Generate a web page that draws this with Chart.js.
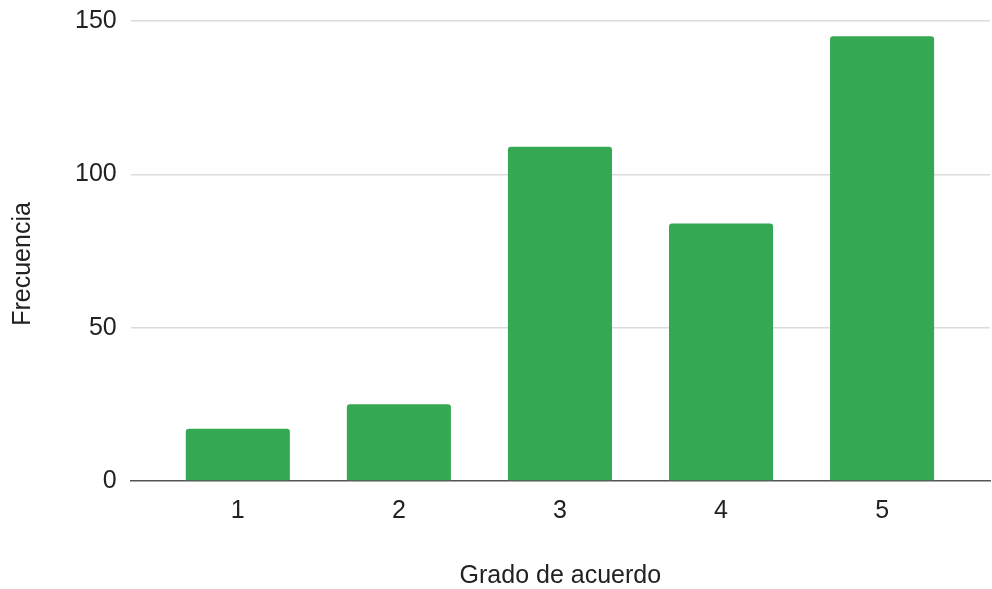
<!DOCTYPE html>
<html>
<head>
<meta charset="utf-8">
<script src="https://cdn.jsdelivr.net/npm/chart.js@4"></script>
<style>
  body { margin: 0; background: #fff; }
  #wrap { width: 992px; height: 589px; }
</style>
</head>
<body>
<div id="wrap"><canvas id="chart" width="992" height="589"></canvas></div>
<script>
'use strict';

// ************************* DATA **********************************
const categories = [1, 2, 3, 4, 5];
const frequencies = [17, 25, 109, 84, 145];
const yTicks = [0, 50, 100, 150];
const xTitle = 'Grado de acuerdo';
const yTitle = 'Frecuencia';

const canvas = document.querySelector('#chart');
const FONT = 'Liberation Sans, Arial, sans-serif';

// y title sits a bit below the middle of the plot in the original, so draw it ourselves
const yTitlePlugin = {
  id: 'yTitle',
  afterDraw(chart) {
    const { ctx, chartArea } = chart;
    ctx.save();
    ctx.translate(23, (chartArea.top + chartArea.bottom) / 2 + 13);
    ctx.rotate(-Math.PI / 2);
    ctx.font = `25px ${FONT}`;
    ctx.fillStyle = '#222';
    ctx.textAlign = 'center';
    ctx.textBaseline = 'middle';
    ctx.fillText(yTitle, 0, 0);
    ctx.restore();
  }
};

// the x axis is linear so the baseline runs past the outer bars, like the original
const chartObject = {
  type: 'bar',
  data: {
    datasets: [{
      label: yTitle,
      data: categories.map((c, i) => ({ x: c, y: frequencies[i] })),
      backgroundColor: '#34a853',
      borderRadius: { topLeft: 3, topRight: 3 },
      borderSkipped: 'bottom',
      categoryPercentage: 1,
      barPercentage: 0.646
    }]
  },
  options: {
    responsive: false,
    animation: false,
    devicePixelRatio: 1,
    layout: { padding: { top: 21, right: 2, left: 61, bottom: 0 } },
    plugins: {
      legend: { display: false },
      tooltip: { enabled: false }
    },
    scales: {
      x: {
        type: 'linear',
        offset: false,
        min: 0.335,
        max: 5.67,
        afterBuildTicks: axis => {
          axis.ticks = categories.map(v => ({ value: v }));
        },
        grid: { display: false, drawTicks: false },
        border: { display: true, color: '#555', width: 1.5 },
        ticks: {
          color: '#222',
          padding: 18,
          font: { family: FONT, size: 25, lineHeight: 1 }
        },
        title: {
          display: true,
          text: xTitle,
          color: '#222',
          padding: { top: 22, bottom: 0 },
          font: { family: FONT, size: 25, lineHeight: 1 }
        }
      },
      y: {
        min: yTicks[0],
        max: yTicks[yTicks.length - 1],
        afterBuildTicks: axis => {
          axis.ticks = yTicks.map(v => ({ value: v }));
        },
        // let the top label hang above the plot instead of pushing it down
        afterFit: axis => {
          axis.paddingTop = 0;
          axis.paddingBottom = 0;
        },
        grid: {
          drawTicks: false,
          color: ctx => (ctx.tick && ctx.tick.value === 0) ? 'rgba(0,0,0,0)' : '#dcdcdc',
          lineWidth: 1.5
        },
        border: { display: false },
        ticks: {
          color: '#222',
          padding: 14,
          font: { family: FONT, size: 25 }
        }
      }
    }
  },
  plugins: [yTitlePlugin]
};

new Chart(canvas, chartObject);
</script>
</body>
</html>
